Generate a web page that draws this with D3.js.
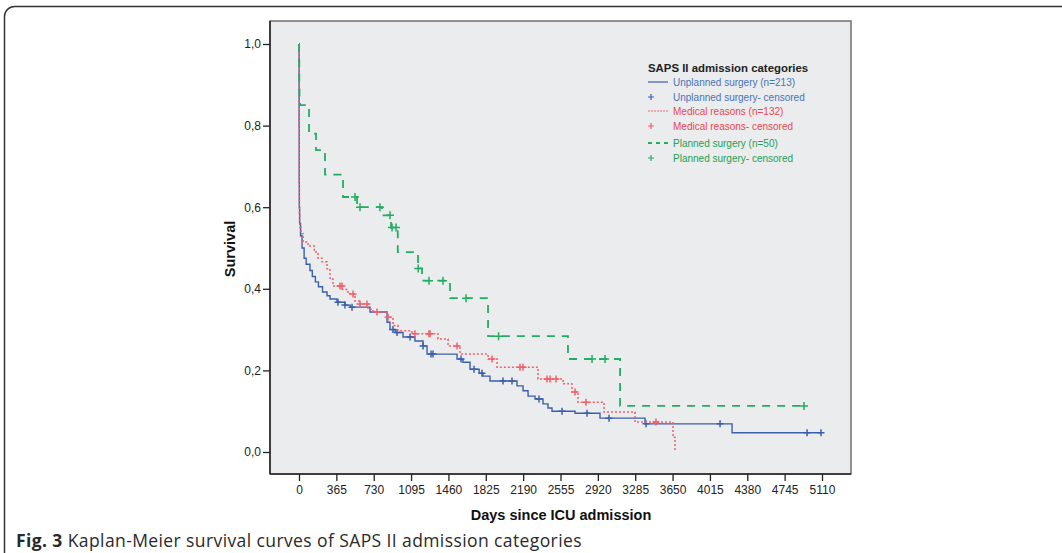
<!DOCTYPE html>
<html>
<head>
<meta charset="utf-8">
<script src="https://cdn.jsdelivr.net/npm/d3@7/dist/d3.min.js"></script>
<style>
  body { margin: 0; background: #fff; }
  text { font-family: "Liberation Sans", Arial, sans-serif; }
</style>
</head>
<body>
<script>
"use strict";

// x axis: days since ICU admission
var xTicks = [0, 365, 730, 1095, 1460, 1825, 2190, 2555, 2920, 3285, 3650, 4015, 4380, 4745, 5110];
var yTicks = [0, 0.2, 0.4, 0.6, 0.8, 1.0];

// Kaplan-Meier steps, [day, survival]
var unplannedSteps = [
  [0, 1.0], [1, 0.80], [2, 0.66], [3, 0.60], [6, 0.56], [15, 0.53], [30, 0.50], [50, 0.475],
  [70, 0.46], [107, 0.445], [130, 0.43], [160, 0.417], [190, 0.405], [230, 0.392], [274, 0.383],
  [303, 0.375], [371, 0.367], [449, 0.36], [500, 0.355], [694, 0.343], [860, 0.318], [889, 0.30],
  [940, 0.293], [1016, 0.282], [1133, 0.272], [1212, 0.26], [1251, 0.24], [1544, 0.228],
  [1602, 0.22], [1671, 0.203], [1760, 0.193], [1798, 0.186], [1866, 0.174], [2130, 0.162],
  [2189, 0.15], [2238, 0.137], [2306, 0.13], [2384, 0.118], [2433, 0.108], [2472, 0.10],
  [2697, 0.095], [2941, 0.083], [3381, 0.069], [4231, 0.047]
];
var unplannedCensored = [381, 449, 518, 918, 958, 1085, 1212, 1290, 1309, 1583, 1710, 1788,
  1993, 2081, 2345, 2570, 2814, 3029, 3391, 4114, 4964, 5100];

var medicalSteps = [
  [0, 1.0], [1, 0.80], [2, 0.66], [4, 0.58], [8, 0.55], [20, 0.535], [40, 0.515], [88, 0.505],
  [150, 0.49], [186, 0.475], [225, 0.466], [274, 0.449], [303, 0.424], [332, 0.407], [425, 0.398],
  [479, 0.387], [547, 0.37], [596, 0.363], [674, 0.35], [723, 0.343], [860, 0.33], [918, 0.31],
  [967, 0.297], [1104, 0.29], [1358, 0.277], [1456, 0.26], [1573, 0.24], [1847, 0.228],
  [1935, 0.208], [2335, 0.179], [2580, 0.167], [2667, 0.147], [2726, 0.122], [2980, 0.098],
  [3283, 0.0735], [3654, 0.036], [3674, 0.0]
];
var medicalCensored = [401, 420, 528, 596, 664, 762, 870, 1133, 1270, 1280, 1544, 1886, 2159,
  2189, 2423, 2453, 2511, 2697, 2804, 3488];

var plannedSteps = [
  [0, 1.0], [1, 0.96], [3, 0.90], [5, 0.86], [10, 0.85], [98, 0.78], [166, 0.74], [254, 0.68],
  [430, 0.625], [567, 0.60], [811, 0.58], [899, 0.55], [965, 0.49], [1163, 0.45], [1202, 0.42],
  [1475, 0.377], [1847, 0.284], [2628, 0.228], [3137, 0.113]
];
var plannedCensored = [547, 596, 791, 889, 909, 948, 1165, 1270, 1407, 1632, 1950, 2863, 2990, 4934];

var legendTitle = "SAPS II admission categories";
var seriesNames = ["Unplanned surgery (n=213)", "Medical reasons (n=132)", "Planned surgery (n=50)"];
var censorNames = ["Unplanned surgery- censored", "Medical reasons- censored", "Planned surgery- censored"];

(function () {

  var width = 1062, height = 553;
  var frame = { left: 270, top: 21, right: 851, bottom: 474 };

  var series = [
    { name: seriesNames[0], censorName: censorNames[0], steps: unplannedSteps, censored: unplannedCensored,
      color: "#3c5fab", text: "#4775b6", dash: null, width: 1.4, plus: 7 },
    { name: seriesNames[1], censorName: censorNames[1], steps: medicalSteps, censored: medicalCensored,
      color: "#f0606a", text: "#e8474f", dash: "2,2", width: 1.5, plus: 7 },
    { name: seriesNames[2], censorName: censorNames[2], steps: plannedSteps, censored: plannedCensored,
      color: "#22ad63", text: "#1f9e55", dash: "8,7", width: 1.8, plus: 8 }
  ];

  var svg = d3.select("body")
    .append("svg")
    .attr("width", width)
    .attr("height", height);

  // outer figure border (rounded corner top-left)
  svg.append("rect")
    .attr("x", 4.5).attr("y", 6.5)
    .attr("width", 1200).attr("height", 700)
    .attr("rx", 10)
    .attr("fill", "none")
    .attr("stroke", "#333")
    .attr("stroke-width", 1.5);

  var x = d3.scaleLinear().domain([0, 5110]).range([299, 822]);
  var y = d3.scaleLinear().domain([0, 1]).range([452, 44]);

  // plot background
  svg.append("rect")
    .attr("x", frame.left).attr("y", frame.top)
    .attr("width", frame.right - frame.left)
    .attr("height", frame.bottom - frame.top)
    .attr("fill", "#ebeced")
    .attr("stroke", "#707070")
    .attr("stroke-width", 1.5);

  svg.append("line")
    .attr("x1", frame.left).attr("x2", frame.left)
    .attr("y1", frame.top).attr("y2", frame.bottom)
    .attr("stroke", "#222").attr("stroke-width", 1.5);
  svg.append("line")
    .attr("x1", frame.left).attr("x2", frame.right)
    .attr("y1", frame.bottom).attr("y2", frame.bottom)
    .attr("stroke", "#222").attr("stroke-width", 1.5);

  var xAxis = svg.append("g")
    .attr("transform", "translate(0," + frame.bottom + ")")
    .call(d3.axisBottom(x).tickValues(xTicks).tickSize(7).tickPadding(4).tickFormat(d3.format("d")));
  xAxis.select(".domain").remove();

  var yAxis = svg.append("g")
    .attr("transform", "translate(" + frame.left + ",0)")
    .call(d3.axisLeft(y).tickValues(yTicks).tickSize(7).tickPadding(2)
      .tickFormat(function (d) { return d3.format(".1f")(d).replace(".", ","); }));
  yAxis.select(".domain").remove();

  svg.selectAll(".tick line").attr("stroke", "#222").attr("stroke-width", 1.3);
  svg.selectAll(".tick text")
    .attr("fill", "#222")
    .style("font-size", "12px")
    .style("font-family", "'Liberation Sans', Arial, sans-serif");

  // axis titles
  svg.append("text")
    .attr("x", 561).attr("y", 520)
    .attr("text-anchor", "middle")
    .attr("font-weight", "bold")
    .attr("font-size", 14.5)
    .attr("fill", "#111")
    .text("Days since ICU admission");

  svg.append("text")
    .attr("transform", "translate(235,249) rotate(-90)")
    .attr("text-anchor", "middle")
    .attr("font-weight", "bold")
    .attr("font-size", 14.5)
    .attr("fill", "#111")
    .text("Survival");

  // step curves
  function survivalAt(steps, t) {
    var s = steps[0][1];
    steps.forEach(function (d) { if (d[0] <= t) s = d[1]; });
    return s;
  }

  var line = d3.line()
    .x(function (d) { return x(d[0]); })
    .y(function (d) { return y(d[1]); })
    .curve(d3.curveStepAfter);

  series.forEach(function (s) {
    var last = s.steps[s.steps.length - 1];
    var endDay = Math.max(last[0], d3.max(s.censored));
    var pts = s.steps.concat([[endDay, last[1]]]);

    svg.append("path")
      .datum(pts)
      .attr("d", line)
      .attr("fill", "none")
      .attr("stroke", s.color)
      .attr("stroke-width", s.width)
      .attr("stroke-dasharray", s.dash);

    svg.append("g").selectAll("path.censor")
      .data(s.censored)
      .enter()
      .append("path")
      .attr("class", "censor")
      .attr("d", function (d) {
        var cx = x(d), cy = y(survivalAt(s.steps, d)), h = s.plus / 2;
        return "M" + (cx - h) + "," + cy + "H" + (cx + h) + "M" + cx + "," + (cy - h) + "V" + (cy + h);
      })
      .attr("stroke", s.color)
      .attr("stroke-width", 1.5)
      .attr("fill", "none");
  });

  // legend
  var legend = svg.append("g").attr("transform", "translate(648,0)");
  legend.append("text")
    .attr("x", 0).attr("y", 72)
    .attr("font-weight", "bold")
    .attr("font-size", 11.4)
    .attr("fill", "#222")
    .text(legendTitle);

  var rowsY = [82, 97, 111, 126, 143, 158];
  series.forEach(function (s, i) {
    var ly = rowsY[i * 2], cy = rowsY[i * 2 + 1];
    legend.append("line")
      .attr("x1", 0).attr("x2", 20)
      .attr("y1", ly).attr("y2", ly)
      .attr("stroke", s.color)
      .attr("stroke-width", i === 2 ? 1.8 : 1.2)
      .attr("stroke-dasharray", i === 1 ? "2,1" : (i === 2 ? "4,4" : null));
    legend.append("text")
      .attr("x", 25).attr("y", ly + 3.5)
      .attr("font-size", 10)
      .attr("fill", s.text)
      .text(s.name);
    legend.append("path")
      .attr("d", "M0," + cy + "H6M3," + (cy - 3) + "V" + (cy + 3))
      .attr("stroke", s.color)
      .attr("stroke-width", 1.2);
    legend.append("text")
      .attr("x", 25).attr("y", cy + 3.5)
      .attr("font-size", 10)
      .attr("fill", s.text)
      .text(s.censorName);
  });

  // caption
  var caption = svg.append("text")
    .attr("x", 16).attr("y", 547)
    .style("font-family", "'Open Sans', sans-serif")
    .attr("font-size", 17.5)
    .attr("letter-spacing", 0.4)
    .attr("fill", "#2a2a2a");
  caption.append("tspan").attr("font-weight", "bold").text("Fig. 3");
  caption.append("tspan").text(" Kaplan-Meier survival curves of SAPS II admission categories");

})();
</script>
</body>
</html>
